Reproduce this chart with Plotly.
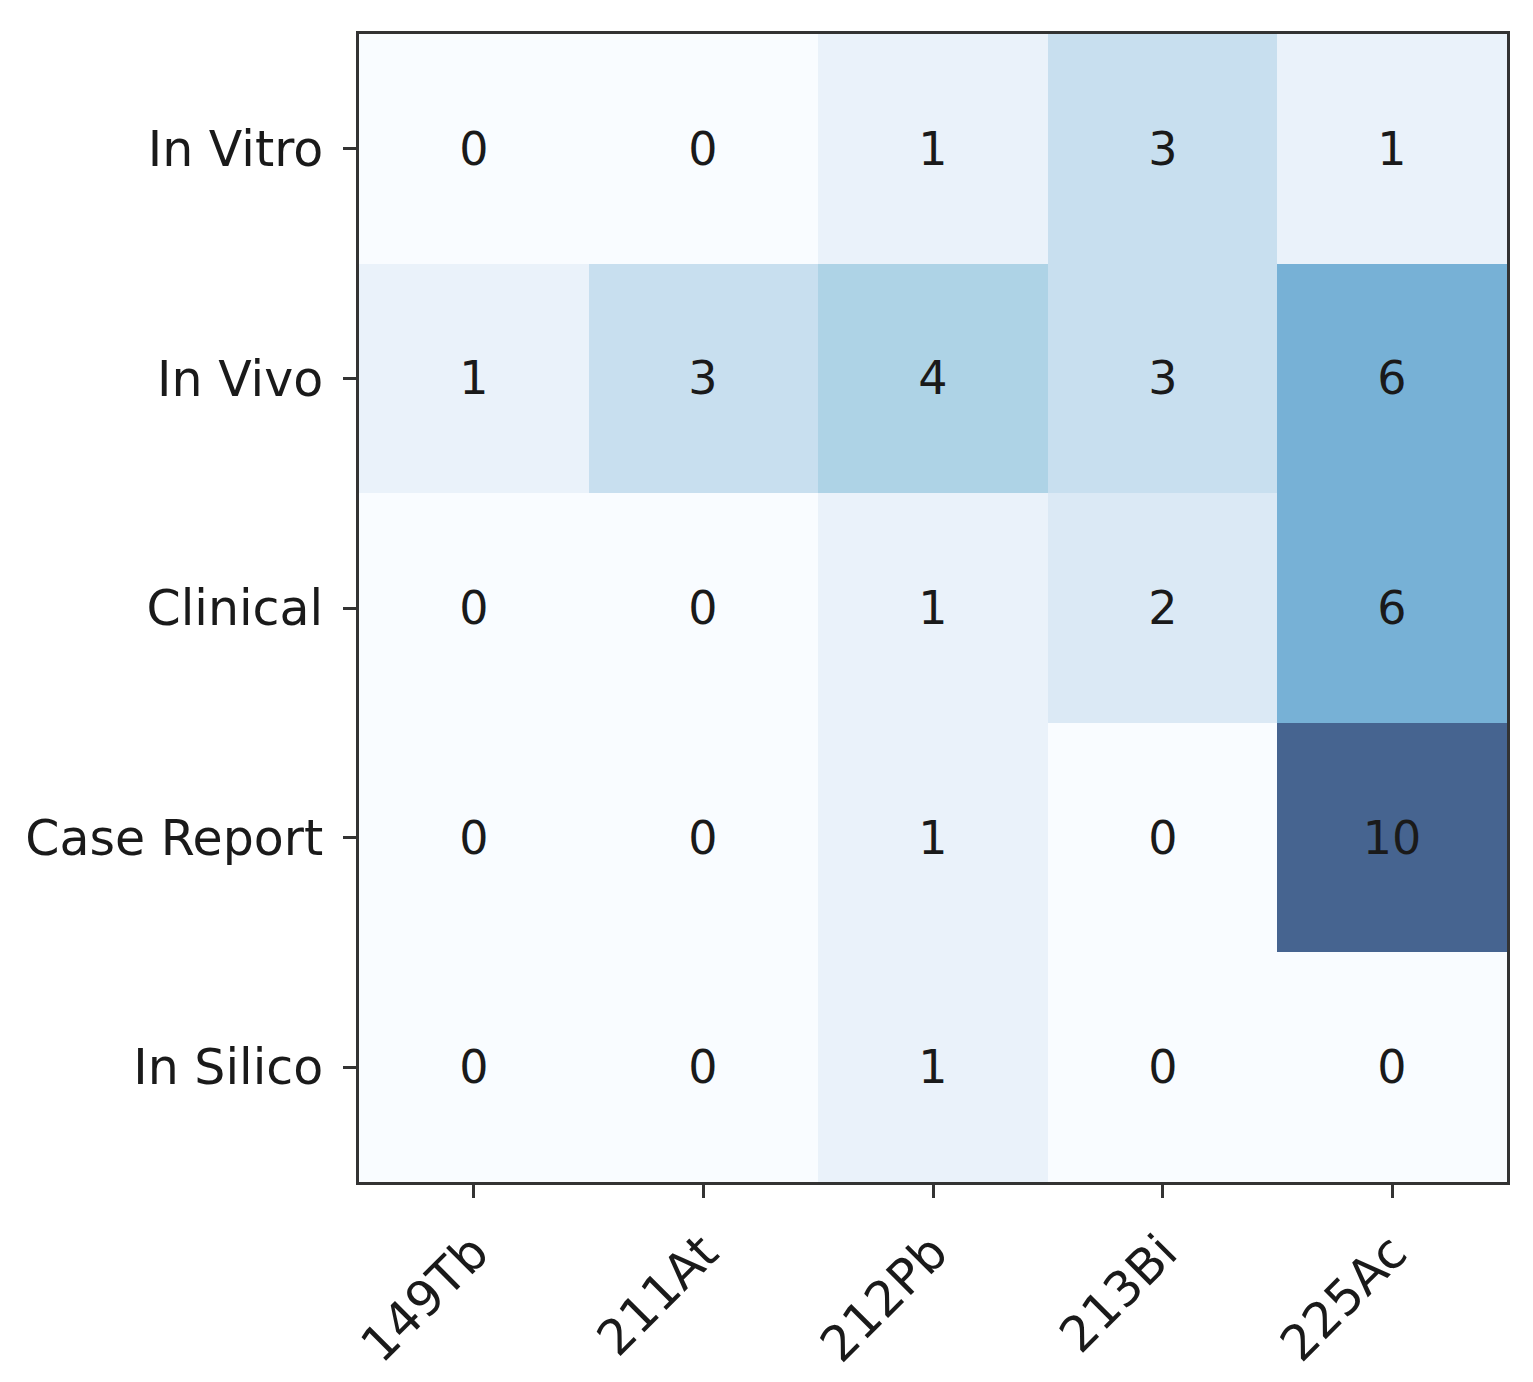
import plotly.graph_objects as go

isotopes = ["149Tb", "211At", "212Pb", "213Bi", "225Ac"]
study_types = ["In Vitro", "In Vivo", "Clinical", "Case Report", "In Silico"]
counts = [
    [0, 0, 1, 3, 1],
    [1, 3, 4, 3, 6],
    [0, 0, 1, 2, 6],
    [0, 0, 1, 0, 10],
    [0, 0, 1, 0, 0],
]

blues = [(247, 251, 255), (222, 235, 247), (198, 219, 239), (158, 202, 225),
         (107, 174, 214), (66, 146, 198), (33, 113, 181), (8, 81, 156), (8, 48, 107)]
alpha = 0.75
scale = []
for i, (r, g, b) in enumerate(blues):
    rr = round(alpha * r + (1 - alpha) * 255)
    gg = round(alpha * g + (1 - alpha) * 255)
    bb = round(alpha * b + (1 - alpha) * 255)
    scale.append([i / (len(blues) - 1), f"rgb({rr},{gg},{bb})"])

fig = go.Figure(go.Heatmap(
    z=counts, x=isotopes, y=study_types,
    colorscale=scale, zmin=0, zmax=10, showscale=False,
    texttemplate="%{z}", textfont=dict(size=46, color="#1a1a1a", family="DejaVu Sans"),
    xgap=0, ygap=0,
))

axis_common = dict(
    showline=True, linecolor="#333", linewidth=3, mirror=True,
    ticks="outside", ticklen=13, tickwidth=2.5, tickcolor="#333",
    tickfont=dict(size=49, color="#1a1a1a", family="DejaVu Sans"),
    showgrid=False, zeroline=False,
)
fig.update_xaxes(tickangle=-45, ticklabelstandoff=6, **axis_common)
fig.update_yaxes(autorange="reversed", ticklabelstandoff=10, **axis_common)

fig.update_layout(
    width=1533, height=1382,
    margin=dict(l=351, r=34, t=26, b=208),
    paper_bgcolor="white", plot_bgcolor="white",
)
fig.write_html("out.html")
